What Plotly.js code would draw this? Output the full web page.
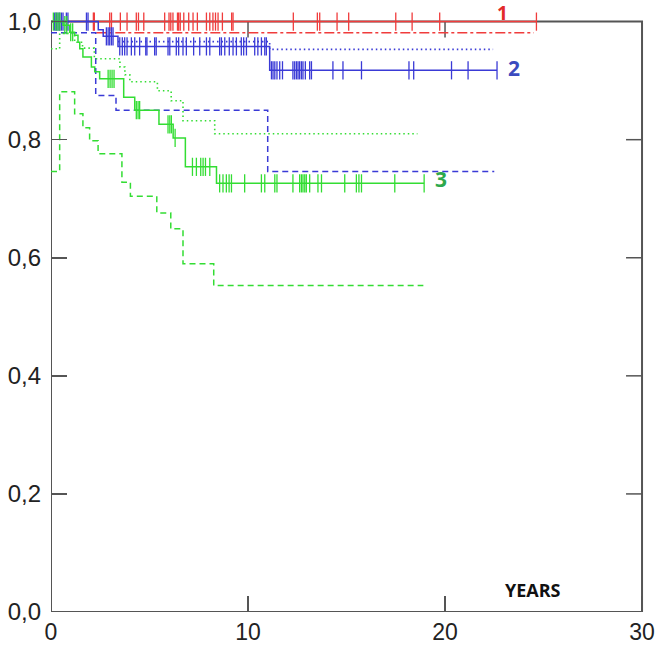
<!DOCTYPE html>
<html>
<head>
<meta charset="utf-8">
<script src="https://cdn.plot.ly/plotly-3.0.1.min.js"></script>
<style>html,body{margin:0;padding:0;background:#fff;}#chart{width:661px;height:646px;}</style>
</head>
<body>
<div id="chart"></div>
<script>
// ---- Data (years, survival) ----
// Group 1 (red)
const red_t = [0, 24.64];
const red_s = [1.0, 1.0];
const red_cens = [2.15, 2.2, 2.98, 3.07, 3.52, 3.86, 4.33, 4.44, 4.71, 5.77, 5.99, 6.08, 6.19, 6.42, 6.48, 6.56, 6.74, 6.99, 7.21, 7.43, 7.89, 8.06, 8.22, 8.35, 8.48, 8.7, 9.17, 9.24, 12.3, 13.52, 13.64, 14.52, 15.11, 17.5, 18.33, 19.73, 24.64];
const red_lo_t = [2.3, 24.5];
const red_lo_s = [0.981, 0.981];

// Group 2 (blue)
const blue_t = [0, 2.4, 2.65, 3.4, 11.1, 22.64];
const blue_s = [1.0, 0.986, 0.975, 0.958, 0.9175, 0.9175];
const blue_cens = [0.19, 0.27, 0.36, 0.44, 0.53, 0.61, 0.78, 0.86, 1.8, 1.88,
  2.81, 2.9, 2.98, 3.07, 3.15,
  3.49, 3.62, 3.74, 3.86, 4.08, 4.25, 4.5, 4.81, 4.87, 5.26, 5.34, 5.94, 6.03, 6.36, 6.48, 6.7, 6.87, 7.24, 7.55, 7.89, 8.06, 8.56, 8.65, 8.82, 9.05, 9.24, 9.41, 9.66, 9.78, 9.92, 10.34, 10.5, 10.68, 10.85, 10.93,
  11.19, 11.27, 11.36, 11.47, 11.61, 11.75, 12.28, 12.37, 12.46, 12.54, 12.62, 12.71, 12.79, 12.91, 13.13, 13.22, 14.31, 14.82, 15.76, 18.17, 18.41, 20.33, 21.17, 22.64];
const blue_lo_t = [0, 2.27, 3.3, 11.0, 22.5];
const blue_lo_s = [0.981, 0.875, 0.85, 0.746, 0.746];
const blue_hi_t = [3.4, 11.1, 22.44];
const blue_hi_s = [0.966, 0.953, 0.953];

// Group 3 (green)
const green_t = [0, 0.61, 0.95, 1.2, 1.37, 1.46, 1.62, 2.05, 2.22, 2.47, 3.69, 4.25, 5.48, 6.2, 6.82, 8.4, 18.94];
const green_s = [1.0, 0.994, 0.982, 0.977, 0.965, 0.954, 0.94, 0.923, 0.915, 0.903, 0.872, 0.85, 0.826, 0.803, 0.754, 0.726, 0.726];
const green_cens = [0.12, 0.25, 0.35, 0.45, 0.7, 0.8, 1.0, 1.1,
  2.9, 3.0, 3.1, 3.2, 4.33, 4.42, 4.5, 5.94, 6.03, 6.11, 6.3,
  7.18, 7.38, 7.6, 7.72, 7.84, 8.06,
  8.56, 8.73, 8.9, 9.04, 9.16, 9.83, 10.68, 10.85, 11.36, 11.47, 12.28, 12.62, 12.71, 12.79, 12.88, 12.96, 13.13, 13.55, 13.73, 14.91, 15.5, 15.63, 15.76, 17.45, 18.94];
const green_hi_t = [0, 0.44, 1.2, 1.6, 2.2, 3.5, 3.75, 4.0, 5.4, 6.1, 6.7, 8.31, 18.6];
const green_hi_s = [0.954, 0.98, 0.965, 0.955, 0.937, 0.923, 0.91, 0.898, 0.883, 0.866, 0.832, 0.81, 0.81];
const green_lo_t = [0, 0.44, 1.2, 1.62, 1.96, 2.39, 3.6, 4.03, 5.37, 6.08, 6.7, 8.26, 18.9];
const green_lo_s = [0.746, 0.881, 0.844, 0.82, 0.798, 0.776, 0.728, 0.704, 0.676, 0.649, 0.59, 0.553, 0.553];

// Axis ticks
const xTicks = [0, 10, 20, 30];
const yTicks = [0, 0.2, 0.4, 0.6, 0.8, 1.0];

// Curve labels
const labelText = ['1', '2', '3'];
const labelX = [22.9, 23.5, 19.8];
const labelY = [1.0146, 0.922, 0.733];

// ---- Styling ----
const RED = '#f03c3c', BLUE = '#3a3ad6', GREEN = '#33dd33';
const labelColors = ['#e22a2a', '#3b4bbf', '#2ea84c'];
const labelSizes = [19, 21, 21];

function stepAt(ts, ss, t) {
  let v = ss[0];
  for (let i = 0; i < ts.length; i++) { if (ts[i] <= t) v = ss[i]; }
  return v;
}

function stepTrace(t, s, color, dash, width) {
  return {x: t, y: s, type: 'scatter', mode: 'lines', line: {shape: 'hv', color: color, width: width, dash: dash}, hoverinfo: 'skip', showlegend: false};
}
function censTrace(cens, t, s, color) {
  return {x: cens, y: cens.map(c => stepAt(t, s, c)), type: 'scatter', mode: 'markers', cliponaxis: false,
    marker: {symbol: 'line-ns', size: 13, line: {color: color, width: 1.3}}, hoverinfo: 'skip', showlegend: false};
}

const traces = [
  stepTrace(red_lo_t, red_lo_s, RED, '10px,3px,3px,3px', 1.4),
  stepTrace(red_t, red_s, RED, 'solid', 1.5),
  censTrace(red_cens, red_t, red_s, RED),
  stepTrace(blue_lo_t, blue_lo_s, BLUE, '6px,4px', 1.5),
  stepTrace(blue_hi_t, blue_hi_s, BLUE, '1.5px,3px', 1.6),
  stepTrace(blue_t, blue_s, BLUE, 'solid', 1.5),
  censTrace(blue_cens, blue_t, blue_s, BLUE),
  stepTrace(green_lo_t, green_lo_s, GREEN, '6px,4px', 1.5),
  stepTrace(green_hi_t, green_hi_s, GREEN, '1.5px,3px', 1.6),
  stepTrace(green_t, green_s, GREEN, 'solid', 1.5),
  censTrace(green_cens, green_t, green_s, GREEN)
];

const AX = '#555';
const shapes = [
  {type: 'rect', xref: 'x', yref: 'y', x0: xTicks[0], x1: xTicks[xTicks.length-1], y0: yTicks[0], y1: yTicks[yTicks.length-1],
   line: {color: AX, width: 2}, fillcolor: 'rgba(0,0,0,0)', layer: 'below'}
];
xTicks.slice(1, -1).forEach(v => shapes.push({type: 'line', xref: 'x', yref: 'y', ysizemode: 'pixel', yanchor: yTicks[yTicks.length-1], x0: v, x1: v, y0: 0, y1: -16, line: {color: AX, width: 1.5}, layer: 'below'}));
yTicks.slice(1, -1).forEach(v => shapes.push({type: 'line', xref: 'x', yref: 'y', xsizemode: 'pixel', xanchor: xTicks[xTicks.length-1], y0: v, y1: v, x0: 0, x1: -16, line: {color: AX, width: 1.5}, layer: 'below'}));

const annotations = labelText.map((t, i) => ({x: labelX[i], y: labelY[i], xref: 'x', yref: 'y', text: '<b>' + t + '</b>', showarrow: false,
  font: {family: 'Open Sans, sans-serif', size: labelSizes[i], color: labelColors[i]}, xanchor: 'center', yanchor: 'middle'}));
annotations.push({x: 24.48, y: 0.038, xref: 'x', yref: 'y', text: '<b>YEARS</b>', showarrow: false,
  font: {family: 'Open Sans, sans-serif', size: 18, color: '#111'}, xanchor: 'center', yanchor: 'middle'});

const layout = {
  width: 661, height: 646,
  margin: {l: 51, r: 17, t: 2, b: 34, pad: 0},
  paper_bgcolor: '#fff', plot_bgcolor: '#fff',
  separators: ', ',
  showlegend: false,
  xaxis: {range: [0, 30.1], tickvals: xTicks, ticktext: xTicks.map(String), ticks: 'inside', ticklen: 16, tickwidth: 1.5, tickcolor: AX,
    showline: false, showgrid: false, zeroline: false, ticklabelstandoff: 4,
    tickfont: {family: 'Liberation Sans, Arial, sans-serif', size: 23, color: '#222'}},
  yaxis: {range: [0, 1.0332], tickvals: yTicks, tickformat: '.1f', ticks: 'inside', ticklen: 16, tickwidth: 1.5, tickcolor: AX,
    showline: false, showgrid: false, zeroline: false, ticklabelstandoff: 9,
    tickfont: {family: 'Liberation Sans, Arial, sans-serif', size: 24, color: '#222'}},
  shapes: shapes,
  annotations: annotations
};

Plotly.newPlot('chart', traces, layout, {displayModeBar: false, staticPlot: true});
</script>
</body>
</html>
